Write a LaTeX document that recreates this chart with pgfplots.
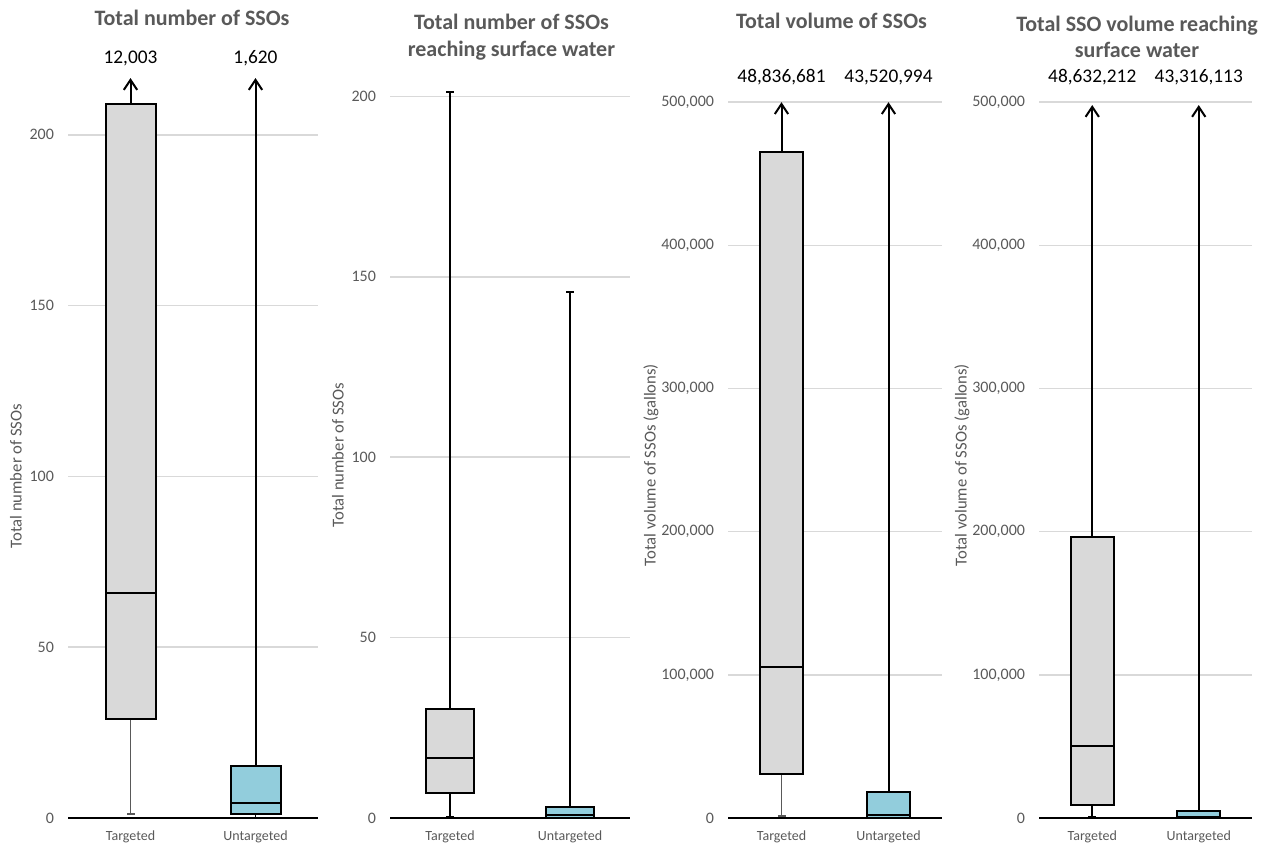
\documentclass[border=0pt]{standalone}
\usepackage{pgfplots}
\pgfplotsset{compat=1.18}
\usetikzlibrary{arrows.meta}
\usepackage{fontspec}
\setmainfont{Carlito}
\definecolor{boxgray}{HTML}{D9D9D9}
\definecolor{boxblue}{HTML}{92CDDC}
\definecolor{gridgray}{HTML}{D9D9D9}
\definecolor{txtgray}{HTML}{595959}
\definecolor{whgray}{HTML}{595959}

\pgfplotsset{
  ssoaxis/.style={
    scale only axis, height=568.5pt, ymin=0,
    xmin=0.5, xmax=2.5, xtick={1,2}, xticklabels={Targeted,Untargeted},
    axis x line*=bottom, axis y line*=left,
    y axis line style={draw=none},
    x axis line style={line width=1.5pt, black},
    major tick length=0pt,
    ymajorgrids, grid style={gridgray, line width=1.1pt},
    clip=false,
    scaled y ticks=false,
    /pgf/number format/assume math mode=true,
    yticklabel style={font=\fontsize{12}{14}\selectfont, text=txtgray, xshift=-7pt,
      /pgf/number format/fixed, /pgf/number format/1000 sep={,}},
    xticklabel style={font=\fontsize{10.5}{12}\selectfont, text=txtgray, yshift=-6pt},
  },
}
\tikzset{
  bx/.style={draw=black, line width=1.5pt, fill=#1},
  md/.style={black, line width=1.5pt},
  up/.style={black, line width=1.5pt, -{Straight Barb[length=7.5pt,width=10pt]}},
  bw/.style={black, line width=1.5pt, -{Bar[width=6pt]}},
  gw/.style={whgray, line width=1pt, -{Bar[width=6pt]}},
  numlab/.style={font=\fontsize{14.5}{16}\selectfont, text=black},
  ttl/.style={font=\bfseries\fontsize{16.5}{20}\selectfont, text=txtgray, anchor=base, inner sep=0pt},
  ylab/.style={font=\fontsize{12.5}{14}\selectfont, text=txtgray, rotate=90, anchor=center, inner sep=0pt},
}

\begin{document}
\begin{tikzpicture}
\path[use as bounding box] (0,0) rectangle (960pt,-633.75pt);

% ---------- Panel 1 ----------
\begin{axis}[ssoaxis, at={(51pt,-613.5pt)}, anchor=south west, width=187.5pt,
  ymax=221.9, ytick={0,50,100,150,200}]
  \addplot[gw] coordinates {(1,29) (1,1)};
  \addplot[up] coordinates {(1,209) (1,216.6)};
  \addplot[black, line width=1.2pt] coordinates {(2,1.3) (2,0)};
  \addplot[up] coordinates {(2,15.2) (2,216.6)};
  \addplot[bx=boxgray] coordinates {(0.8,29) (1.2,29) (1.2,209) (0.8,209)} -- cycle;
  \addplot[md] coordinates {(0.8,66) (1.2,66)};
  \addplot[bx=boxblue] coordinates {(1.8,1.3) (2.2,1.3) (2.2,15.2) (1.8,15.2)} -- cycle;
  \addplot[md] coordinates {(1.8,4.5) (2.2,4.5)};
  \node[numlab] at (axis cs:1,222.4) {12,003};
  \node[numlab] at (axis cs:2,222.4) {1,620};
\end{axis}

% ---------- Panel 2 ----------
\begin{axis}[ssoaxis, at={(292.5pt,-613.5pt)}, anchor=south west, width=180pt,
  ymax=210.1, ytick={0,50,100,150,200}]
  \addplot[bw] coordinates {(1,6.9) (1,0)};
  \addplot[bw] coordinates {(1,30.2) (1,201.5)};
  \addplot[bw] coordinates {(2,3.1) (2,146)};
  \addplot[bx=boxgray] coordinates {(0.8,6.9) (1.2,6.9) (1.2,30.2) (0.8,30.2)} -- cycle;
  \addplot[md] coordinates {(0.8,16.7) (1.2,16.7)};
  \addplot[bx=boxblue] coordinates {(1.8,0) (2.2,0) (2.2,3.1) (1.8,3.1)} -- cycle;
  \addplot[md] coordinates {(1.8,0.9) (2.2,0.9)};
\end{axis}

% ---------- Panel 3 ----------
\begin{axis}[ssoaxis, at={(546pt,-613.5pt)}, anchor=south west, width=160.5pt,
  ymax=529500, ytick={0,100000,200000,300000,400000,500000}]
  \addplot[gw] coordinates {(1,30600) (1,1000)};
  \addplot[up] coordinates {(1,465500) (1,500000)};
  \addplot[up] coordinates {(2,18400) (2,500000)};
  \addplot[bx=boxgray] coordinates {(0.8,30600) (1.2,30600) (1.2,465500) (0.8,465500)} -- cycle;
  \addplot[md] coordinates {(0.8,105300) (1.2,105300)};
  \addplot[bx=boxblue] coordinates {(1.8,0) (2.2,0) (2.2,18400) (1.8,18400)} -- cycle;
  \addplot[md] coordinates {(1.8,2100) (2.2,2100)};
  \node[numlab] at (axis cs:1,517300) {48,836,681};
  \node[numlab] at (axis cs:2,517300) {43,520,994};
\end{axis}

% ---------- Panel 4 ----------
\begin{axis}[ssoaxis, at={(779.25pt,-613.5pt)}, anchor=south west, width=159.75pt,
  ymax=529500, ytick={0,100000,200000,300000,400000,500000}]
  \addplot[bw] coordinates {(1,9300) (1,0)};
  \addplot[up] coordinates {(1,196500) (1,498000)};
  \addplot[up] coordinates {(2,4600) (2,498000)};
  \addplot[bx=boxgray] coordinates {(0.8,9300) (1.2,9300) (1.2,196500) (0.8,196500)} -- cycle;
  \addplot[md] coordinates {(0.8,50400) (1.2,50400)};
  \addplot[bx=boxblue] coordinates {(1.8,0) (2.2,0) (2.2,4600) (1.8,4600)} -- cycle;
  \addplot[md] coordinates {(1.8,1000) (2.2,1000)};
  \node[numlab] at (axis cs:1,517600) {48,632,212};
  \node[numlab] at (axis cs:2,517600) {43,316,113};
\end{axis}

% ---------- Titles ----------
\node[ttl] at (144pt,-19.5pt) {Total number of SSOs};
\node[ttl] at (383.6pt,-22.5pt) {Total number of SSOs};
\node[ttl] at (383.6pt,-42.75pt) {reaching surface water};
\node[ttl] at (623.6pt,-21.75pt) {Total volume of SSOs};
\node[ttl] at (852.75pt,-23.8pt) {Total SSO volume reaching};
\node[ttl] at (852.75pt,-43.5pt) {surface water};

% ---------- Y labels ----------
\node[ylab] at (12pt,-357pt) {Total number of SSOs};
\node[ylab] at (253.5pt,-341.25pt) {Total number of SSOs};
\node[ylab] at (488.25pt,-348.75pt) {Total volume of SSOs (gallons)};
\node[ylab] at (721.5pt,-348.75pt) {Total volume of SSOs (gallons)};
\end{tikzpicture}
\end{document}
